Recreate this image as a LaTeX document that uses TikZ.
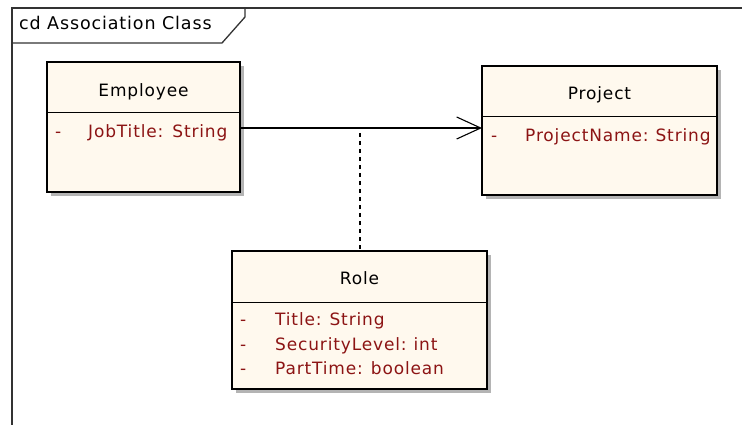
\documentclass[tikz,border=0pt]{standalone}
\usepackage{fontspec}
\setmainfont{DejaVu Sans}
\newfontfamily\umlfont[LetterSpace=5]{DejaVu Sans}
\usetikzlibrary{arrows.meta}
\definecolor{boxfill}{RGB}{255,249,238}
\definecolor{attr}{RGB}{140,20,20}
\definecolor{shade}{RGB}{180,180,180}
\tikzset{
  classbox/.style={draw=black, line width=1.3pt, fill=boxfill},
  shadowbox/.style={fill=shade, draw=none},
  sepline/.style={draw=black, line width=1pt},
  cname/.style={font=\umlfont\fontsize{17}{20}\selectfont, text=black, inner sep=0pt, text height=12.5pt, text depth=3.5pt},
  aname/.style={font=\umlfont\fontsize{17}{20}\selectfont, text=attr, inner sep=0pt, anchor=west, text height=12.5pt, text depth=3.5pt},
  frameline/.style={draw=black!80, line width=1.3pt},
  assoc/.style={draw=black, line width=1.1pt},
  dashassoc/.style={draw=black, line width=1.1pt, dash pattern=on 4pt off 4pt},
}
\begin{document}
\begin{tikzpicture}[x=1pt,y=-1pt]
\useasboundingbox (0,0) rectangle (742,425);
% frame
\draw[frameline] (12,425) -- (12,8) -- (742,8);
\draw[frameline] (12,43) -- (222,43) -- (245,17) -- (245,8);
\node[cname, anchor=west, font=\umlfont\fontsize{17.5}{20}\selectfont] (framelabel) at (19,25) {cd Association Class};
% Employee
\fill[shadowbox] (51,66) rectangle (244,196);
\draw[classbox] (47,62) rectangle (240,192);
\draw[sepline] (47,113) -- (240,113);
\node[cname] (employee) at (143.5,92) {Employee};
\node[aname] (empdash) at (55,133) {-};
\node[aname] (empattr) at (88,133) {JobTitle:\hspace{9pt}String};
\coordinate (empR) at (240,128);
% Project
\fill[shadowbox] (486,70) rectangle (721,199);
\draw[classbox] (482,66) rectangle (717,195);
\draw[sepline] (482,117) -- (717,117);
\node[cname] (project) at (599.5,95) {Project};
\node[aname] (projdash) at (491,137) {-};
\node[aname] (projattr) at (525,137) {ProjectName:\hspace{7pt}String};
\coordinate (projL) at (482,128);
% Role
\fill[shadowbox] (236,255) rectangle (491,393);
\draw[classbox] (232,251) rectangle (487,389);
\draw[sepline] (232,302) -- (487,302);
\node[cname] (role) at (359.5,280) {Role};
\node[aname] (d1) at (240,321) {-};
\node[aname] (d2) at (240,346) {-};
\node[aname] (d3) at (240,370) {-};
\node[aname] (r1) at (275,321) {Title:\hspace{8pt}String};
\node[aname] (r2) at (275,346) {SecurityLevel:\hspace{7pt}int};
\node[aname] (r3) at (275,370) {PartTime:\hspace{8pt}boolean};
\coordinate (roleTop) at (360,251);
\coordinate (mid) at (360,128);
% connectors
\draw[assoc, -{Straight Barb[length=24pt,width=22pt,line width=1.1pt]}] (empR) -- (projL);
\draw[dashassoc] (mid) ++(0,5) -- (roleTop);
\end{tikzpicture}
\end{document}
